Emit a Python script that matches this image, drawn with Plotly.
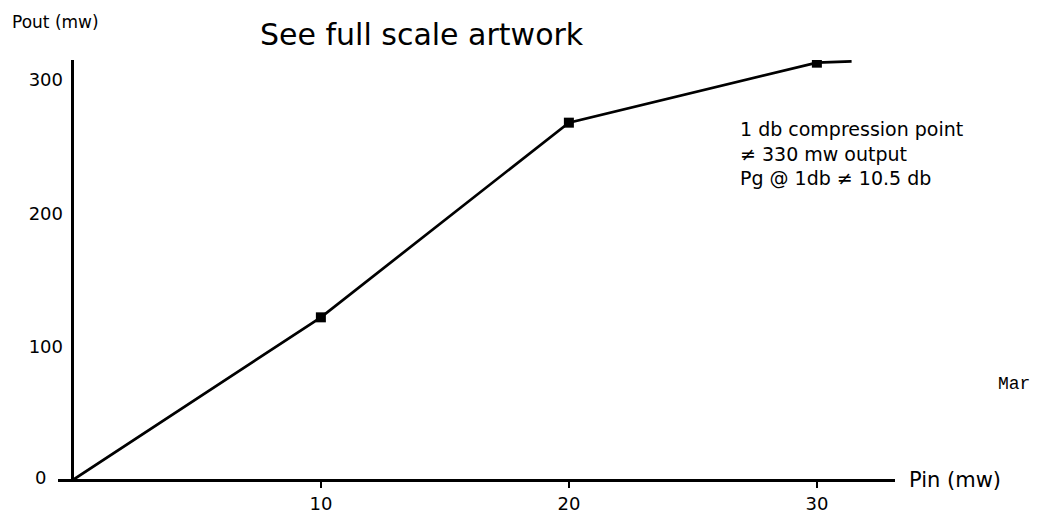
import plotly.graph_objects as go

# Data
pin_mw = [0, 10, 20, 30, 31.4]
pout_mw = [0, 122, 268, 313, 314]
marker_pin = [10, 20, 30]
marker_pout = [122, 268, 313]

x_ticks = [10, 20, 30]
x_tick_labels = ["10", "20", "30"]
y_ticks = [100, 200, 300]
y_tick_labels = ["100", "200", "300"]
y_zero_label = "0"

FONT = "DejaVu Sans"

fig = go.Figure()
fig.add_trace(go.Scatter(
    x=pin_mw, y=pout_mw, mode="lines",
    line=dict(color="black", width=2.7),
    hoverinfo="skip", showlegend=False,
))
fig.add_trace(go.Scatter(
    x=marker_pin, y=marker_pout, mode="markers",
    marker=dict(symbol="square", size=10, color="black"),
    showlegend=False,
))

fig.update_layout(
    width=1039, height=523,
    paper_bgcolor="white", plot_bgcolor="white",
    margin=dict(l=58, r=144, t=60, b=43, autoexpand=False),
    font=dict(family=FONT, color="black", size=16),
    showlegend=False,
    xaxis=dict(
        range=[-0.6, 33.15], automargin=False,
        showgrid=False, showline=False,
        zeroline=True, zerolinecolor="black", zerolinewidth=2.6,
        tickmode="array", tickvals=x_ticks, ticktext=x_tick_labels,
        ticks="outside", ticklen=7, tickwidth=1.8, tickcolor="black",
        tickfont=dict(family=FONT, size=18, color="black"),
    ),
    yaxis=dict(
        range=[0, 315], automargin=False,
        showgrid=False, showline=False,
        zeroline=True, zerolinecolor="black", zerolinewidth=2.6,
        tickmode="array", tickvals=y_ticks, ticktext=y_tick_labels,
        ticks="", ticklabelstandoff=-6,
        tickfont=dict(family=FONT, size=18, color="black"),
    ),
    annotations=[
        dict(text=y_zero_label, xref="paper", yref="y", x=-0.012, y=0,
             xanchor="right", yanchor="middle", yshift=3, showarrow=False,
             font=dict(family=FONT, size=18)),
        dict(text="Pout (mw)", xref="paper", yref="paper", x=-0.0573, y=1.09,
             xanchor="left", yanchor="middle", showarrow=False,
             font=dict(family=FONT, size=17)),
        dict(text="See full scale artwork", xref="paper", yref="paper", x=0.2384, y=1.06,
             xanchor="left", yanchor="middle", showarrow=False,
             font=dict(family=FONT, size=30)),
        dict(text="Pin (mw)", xref="paper", yref="y", x=1.014, y=0,
             xanchor="left", yanchor="middle", showarrow=False,
             font=dict(family=FONT, size=21)),
        dict(text="1 db compression point<br>≠ 330 mw output<br>Pg @ 1db ≠ 10.5 db",
             xref="paper", yref="paper", x=0.8124, y=0.867,
             xanchor="left", yanchor="top", align="left", showarrow=False,
             font=dict(family=FONT, size=19)),
        dict(text="Mar", xref="paper", yref="paper", x=1.1637, y=0.229,
             xanchor="right", yanchor="middle", showarrow=False,
             font=dict(family="Liberation Mono", size=18)),
    ],
)

fig.write_html("out.html", config={"displayModeBar": False},
               post_script="document.body.style.margin='0';")
